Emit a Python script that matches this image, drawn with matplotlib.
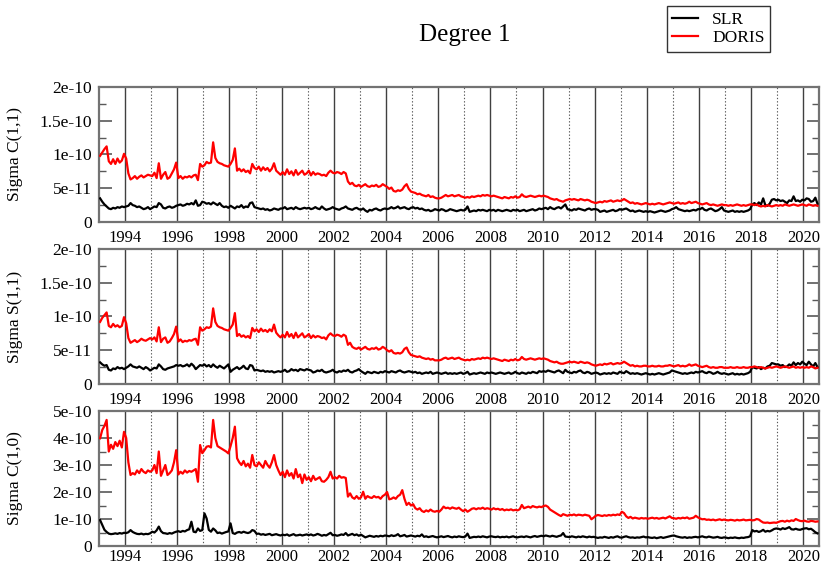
import matplotlib
matplotlib.use('Agg')
import matplotlib.pyplot as plt
from matplotlib.lines import Line2D
import numpy as np

plt.rcParams['font.family'] = ['Liberation Serif', 'DejaVu Serif']

# monthly sigmas, units of 1e-11, Jan 1993 .. Jul 2020
START_YEAR = 1993

slr_c11 = [
    3.5, 3.0, 2.6, 2.3, 2.0, 1.9, 2.1, 2.0, 2.2, 2.1, 2.3, 2.2,
    2.3, 2.4, 2.8, 2.5, 2.4, 2.2, 2.3, 2.1, 1.9, 2.0, 2.2, 1.9,
    2.1, 2.3, 2.2, 2.8, 2.6, 2.1, 2.0, 2.2, 2.3, 2.1, 2.2, 2.4,
    2.5, 2.6, 2.4, 2.5, 2.7, 2.6, 2.8, 2.6, 3.2, 2.4, 2.5, 3.0,
    2.9, 2.7, 2.8, 2.6, 2.9, 2.7, 2.5, 2.8, 2.4, 2.2, 2.3, 2.1,
    2.4, 2.2, 2.0, 2.3, 2.2, 2.5, 2.1, 2.3, 2.2, 2.8, 2.9, 2.2,
    2.1, 2.0, 1.9, 2.0, 1.8, 1.9, 1.7, 1.8, 2.0, 1.9, 1.8, 2.0,
    2.0, 2.2, 1.9, 2.0, 2.1, 1.9, 2.2, 2.0, 1.9, 2.0, 2.1, 2.0,
    2.1, 1.9, 2.0, 2.2, 2.0, 1.9, 2.3, 2.0, 1.8, 1.9, 2.0, 2.2,
    2.0, 1.9, 1.8, 2.0, 2.1, 2.3, 2.0, 1.9, 1.8, 2.0, 2.1, 1.9,
    1.8, 2.0, 1.7, 1.5, 1.8, 1.7, 1.9, 2.0, 1.8, 1.7, 1.9, 2.0,
    1.9, 2.0, 2.2, 2.0, 2.1, 2.3, 2.0, 2.1, 2.2, 2.0, 1.9, 2.1,
    2.2, 2.0, 2.1, 1.9, 2.0, 1.8, 1.7, 1.8, 1.6, 1.7, 1.9, 1.8,
    1.7, 1.9, 1.8, 1.6, 1.7, 1.9, 1.8, 1.7, 1.6, 1.7, 1.8, 1.7,
    1.8, 2.3, 1.5, 1.6, 1.7, 1.6, 1.8, 1.7, 1.8, 1.7, 1.6, 1.8,
    1.7, 1.8, 1.6, 1.8, 1.7, 1.6, 1.7, 1.8, 1.7, 1.6, 1.8, 1.7,
    1.8, 1.6, 1.7, 1.8, 1.6, 1.7, 1.8, 1.9, 1.7, 1.8, 2.0, 1.9,
    2.0, 2.1, 1.9, 2.2, 2.0, 1.9, 2.1, 2.2, 2.0, 2.3, 2.6, 1.9,
    1.8, 1.7, 1.9, 1.8, 2.0, 1.9, 1.8, 1.7, 1.9, 2.0, 1.8, 1.9,
    1.9, 1.8, 1.5, 1.6, 1.7, 1.5, 1.6, 1.7, 1.8, 1.6, 1.7, 1.9,
    1.8, 1.9, 2.0, 1.8, 1.6, 1.7, 1.5, 1.6, 1.7, 1.6, 1.5, 1.6,
    1.5, 1.6, 1.5, 1.4, 1.5, 1.6, 1.7, 1.6, 1.5, 1.6, 1.7, 1.9,
    2.0, 2.2, 1.9, 1.8, 1.7, 1.6, 1.7, 1.6, 1.7, 1.8, 1.7, 1.9,
    1.9, 2.1, 1.8, 1.7, 1.9, 2.0, 1.8, 1.6, 1.7, 1.9, 2.2, 1.7,
    1.6, 1.5, 1.6, 1.7, 1.5, 1.6, 1.5, 1.6, 1.5, 1.6, 1.7, 1.9,
    2.6, 2.8, 2.5, 2.9, 2.6, 3.5, 2.5, 2.4, 2.7, 3.3, 3.4, 3.2,
    3.3, 3.1, 3.2, 3.0, 2.8, 3.2, 3.1, 3.8, 3.1, 3.2, 3.0, 3.3,
    3.2, 3.5, 3.4, 3.0, 3.1, 3.6, 2.7,
]

doris_c11 = [
    9.8, 10.3, 10.8, 11.2, 9.0, 8.6, 9.3, 8.6, 9.4, 8.8, 9.1, 10.1,
    9.4, 7.2, 6.3, 6.5, 6.8, 6.4, 6.7, 6.9, 6.6, 6.8, 7.0, 6.9,
    6.8, 7.3, 6.5, 8.7, 6.4, 7.0, 7.4, 6.4, 6.6, 7.2, 7.8, 8.8,
    6.5, 6.8, 6.4, 6.7, 6.6, 6.8, 6.6, 6.9, 7.0, 6.2, 8.6, 8.2,
    8.4, 8.9, 8.7, 8.8, 11.8, 9.5, 8.9, 8.7, 8.6, 8.4, 8.3, 8.2,
    8.6, 9.2, 10.9, 7.6, 7.9, 7.5, 7.8, 7.4, 7.6, 7.2, 8.6, 8.0,
    7.8, 8.2, 7.6, 8.1, 7.7, 8.0, 7.5, 7.9, 8.7, 7.6, 7.3, 7.0,
    7.4, 7.0, 7.8, 7.1, 7.5, 6.9, 7.7, 7.0, 7.3, 7.6, 7.0, 7.2,
    7.6, 6.9, 7.4, 7.0, 7.2, 7.1, 6.9, 7.0, 6.8, 7.3, 7.6, 7.3,
    7.2, 7.4, 7.3, 7.1, 7.4, 7.2, 6.0, 5.6, 5.8, 5.4, 5.3, 5.5,
    5.2, 5.4, 5.6, 5.3, 5.2, 5.4, 5.3, 5.5, 5.2, 5.3, 5.6, 5.4,
    5.2, 4.9, 5.1, 4.6, 4.5, 4.7, 4.6, 4.8, 5.3, 5.6, 4.9, 4.5,
    4.4, 4.3, 4.1, 4.2, 4.0, 3.9, 3.8, 4.0, 3.7, 3.8, 3.6, 3.5,
    3.5, 3.6, 3.8, 4.0, 3.8, 3.9, 4.0, 3.8, 3.9, 4.0, 3.8, 3.7,
    3.6, 3.7, 3.6, 3.8, 3.7, 3.8, 3.9, 3.8, 4.0, 3.9, 4.0, 3.9,
    3.8, 3.9, 3.8, 3.7, 3.6, 3.5, 3.7, 3.6, 3.5, 3.7, 3.6, 3.8,
    3.6, 3.7, 4.1, 3.8, 3.7, 3.8, 3.9, 3.8, 3.7, 3.8, 3.9, 3.8,
    3.9, 3.8, 3.7, 3.5, 3.4, 3.3, 3.4, 3.2, 3.1, 3.0, 3.2, 3.3,
    3.4, 3.3, 3.4, 3.3, 3.2, 3.4, 3.3, 3.2, 3.3, 3.2, 3.0, 2.9,
    2.8, 2.9, 3.0, 2.9, 3.1, 3.0, 3.1, 3.2, 3.0, 3.1, 3.2, 3.1,
    3.2, 3.4, 3.2, 3.0, 2.8, 2.9, 2.7, 2.8, 2.7, 2.6, 2.7, 2.8,
    2.7, 2.6, 2.7, 2.6, 2.7, 2.8, 2.7, 2.6, 2.7, 2.8, 2.9, 2.8,
    2.7, 2.8, 2.9, 2.7, 2.8, 2.7, 2.8, 3.0, 2.8, 2.9, 3.0, 2.8,
    2.7, 2.6, 2.7, 2.8, 2.6, 2.5, 2.6, 2.5, 2.4, 2.5, 2.6, 2.5,
    2.5, 2.4, 2.5, 2.4, 2.5, 2.6, 2.5, 2.4, 2.5, 2.4, 2.5, 2.6,
    2.6, 2.5, 2.6, 2.4, 2.3, 2.4, 2.3, 2.5, 2.4, 2.3, 2.4, 2.5,
    2.4, 2.5, 2.4, 2.6, 2.5, 2.4, 2.5, 2.6, 2.5, 2.4, 2.5, 2.6,
    2.5, 2.4, 2.6, 2.5, 2.4, 2.5, 2.4,
]

slr_s11 = [
    3.2, 2.9, 2.7, 2.8, 2.1, 2.0, 2.3, 2.2, 2.5, 2.3, 2.4, 2.2,
    2.4, 2.6, 2.9, 2.6, 2.5, 2.4, 2.6, 2.4, 2.2, 2.5, 2.3, 2.0,
    2.2, 2.4, 2.3, 2.9, 2.6, 2.2, 2.1, 2.3, 2.4, 2.5, 2.6, 2.8,
    2.7, 2.8, 2.6, 2.7, 2.9, 2.6, 3.0, 2.7, 2.2, 2.5, 2.8, 2.7,
    2.9, 2.6, 2.8, 2.5, 2.9, 2.6, 2.4, 2.7, 2.5, 2.3, 2.6, 2.9,
    1.8, 2.1, 2.3, 2.5, 2.2, 2.4, 2.7, 2.3, 2.2, 2.8, 2.7, 2.0,
    2.1, 2.0, 1.9, 2.0, 1.8, 1.9, 1.8, 1.9, 1.7, 1.8, 1.9, 1.8,
    1.9, 2.1, 1.8, 1.9, 2.2, 2.0, 2.1, 1.9, 2.2, 2.1, 2.0, 2.2,
    2.1, 2.0, 1.7, 1.8, 2.0, 1.9, 2.1, 1.8, 1.7, 1.8, 1.9, 2.1,
    1.8, 1.7, 1.9, 1.8, 2.0, 1.9, 2.1, 1.8, 1.7, 1.9, 2.0, 2.2,
    1.9, 1.7, 1.5, 1.8, 1.7, 1.6, 1.8, 1.7, 1.6, 1.8, 1.7, 1.9,
    1.8, 1.7, 1.9, 1.8, 1.7, 1.9, 2.0, 1.8, 1.7, 1.8, 1.9, 1.8,
    1.7, 1.8, 1.6, 1.7, 1.5, 1.6, 1.7, 1.6, 1.8, 1.5, 1.6, 1.7,
    1.6, 1.5, 1.6, 1.7, 1.5, 1.6, 1.5, 1.6, 1.5, 1.6, 1.7, 1.5,
    1.6, 1.8, 1.4, 1.5, 1.6, 1.5, 1.6, 1.7, 1.6, 1.5, 1.7, 1.6,
    1.7, 1.6, 1.5, 1.6, 1.7, 1.6, 1.5, 1.6, 1.7, 1.5, 1.6, 1.8,
    1.6, 1.5, 1.7, 1.6, 1.5, 1.7, 1.6, 1.8, 1.7, 1.6, 1.9, 1.8,
    1.9, 1.8, 2.0, 1.9, 1.8, 1.7, 1.9, 2.0, 1.8, 1.6, 2.1, 1.8,
    1.7, 1.6, 1.8, 1.7, 1.9, 2.0, 1.7, 1.6, 1.8, 1.7, 1.5, 1.6,
    1.7, 1.6, 1.4, 1.5, 1.6, 1.5, 1.6, 1.5, 1.7, 1.6, 1.5, 1.8,
    1.7, 1.6, 1.9, 1.7, 1.5, 1.6, 1.5, 1.6, 1.5, 1.4, 1.5, 1.6,
    1.5, 1.4, 1.5, 1.4, 1.5, 1.6, 1.5, 1.4, 1.5, 1.6, 1.7, 2.0,
    1.9, 1.8, 1.7, 1.6, 1.5, 1.6, 1.5, 1.6, 1.7, 1.6, 1.8, 1.7,
    1.8, 1.9, 1.7, 1.6, 1.8, 1.7, 1.5, 1.6, 1.8, 1.6, 1.5, 1.6,
    1.5, 1.4, 1.5, 1.6, 1.4, 1.5, 1.4, 1.5, 1.4, 1.5, 1.6, 1.8,
    2.5, 2.4, 2.3, 2.5, 2.2, 2.4, 2.3, 2.6, 2.7, 3.1, 3.0, 2.9,
    2.9, 2.7, 2.8, 2.5, 2.6, 2.9, 2.7, 3.2, 2.8, 3.1, 2.9, 3.3,
    3.0, 2.8, 3.3, 2.9, 2.6, 3.1, 2.5,
]

doris_s11 = [
    9.2, 9.8, 10.2, 10.6, 8.6, 8.4, 8.9, 8.5, 8.7, 8.4, 8.6, 9.9,
    9.0, 6.8, 6.1, 6.3, 6.5, 6.2, 6.4, 6.7, 6.5, 6.4, 6.6, 6.8,
    6.6, 6.9, 6.3, 8.4, 6.2, 6.7, 6.9, 6.1, 6.3, 6.8, 7.4, 8.5,
    6.3, 6.6, 6.2, 6.4, 6.3, 6.5, 6.4, 6.6, 6.7, 5.8, 8.4, 7.9,
    8.1, 8.4, 8.3, 8.5, 11.2, 9.2, 8.6, 8.4, 8.3, 8.1, 8.0, 7.9,
    8.3, 8.8, 10.5, 7.1, 7.4, 7.0, 7.2, 6.9, 7.1, 6.8, 8.3, 7.8,
    8.1, 7.7, 8.2, 7.8, 8.0, 7.7, 8.1, 7.8, 8.8, 7.6, 7.2, 6.9,
    7.3, 6.9, 7.7, 7.0, 7.4, 6.8, 7.6, 6.9, 7.2, 7.5, 6.9, 7.1,
    7.4, 6.8, 7.2, 6.9, 7.1, 7.0, 6.8, 6.9, 6.6, 7.2, 7.5, 7.2,
    7.1, 7.3, 7.2, 7.0, 7.3, 7.1, 5.8, 6.1, 5.5, 5.3, 5.2, 5.4,
    5.1, 5.3, 5.5, 5.2, 5.1, 5.3, 5.2, 5.4, 5.1, 5.2, 5.5, 5.3,
    5.0, 4.8, 5.0, 4.6, 4.5, 4.6, 4.5, 4.7, 5.2, 5.4, 4.7, 4.3,
    4.2, 4.1, 4.0, 4.1, 3.9, 3.8, 3.7, 3.8, 3.6, 3.7, 3.5, 3.5,
    3.5, 3.6, 3.8, 3.9, 3.7, 3.8, 3.9, 3.7, 3.8, 3.9, 3.7, 3.6,
    3.5, 3.6, 3.5, 3.7, 3.6, 3.7, 3.8, 3.7, 3.9, 3.8, 3.9, 3.8,
    3.7, 3.8, 3.7, 3.6, 3.5, 3.4, 3.6, 3.5, 3.4, 3.6, 3.5, 3.7,
    3.5, 3.6, 4.0, 3.7, 3.6, 3.7, 3.8, 3.7, 3.6, 3.7, 3.8, 3.7,
    3.8, 3.7, 3.6, 3.4, 3.3, 3.2, 3.3, 3.1, 3.0, 3.0, 3.1, 3.2,
    3.3, 3.2, 3.3, 3.2, 3.1, 3.3, 3.2, 3.1, 3.2, 3.1, 2.9, 2.8,
    2.7, 2.8, 2.9, 2.8, 3.0, 2.9, 3.0, 3.1, 2.9, 3.0, 3.1, 3.0,
    3.1, 3.3, 3.1, 2.9, 2.7, 2.8, 2.6, 2.7, 2.6, 2.6, 2.7, 2.7,
    2.6, 2.6, 2.7, 2.6, 2.6, 2.7, 2.6, 2.6, 2.7, 2.7, 2.8, 2.7,
    2.6, 2.7, 2.8, 2.6, 2.7, 2.6, 2.7, 2.9, 2.7, 2.8, 2.9, 2.7,
    2.6, 2.5, 2.6, 2.7, 2.5, 2.4, 2.5, 2.4, 2.4, 2.5, 2.5, 2.4,
    2.4, 2.4, 2.5, 2.4, 2.4, 2.5, 2.4, 2.4, 2.5, 2.4, 2.4, 2.5,
    2.5, 2.6, 2.5, 2.4, 2.5, 2.4, 2.3, 2.4, 2.5, 2.4, 2.5, 2.6,
    2.5, 2.4, 2.5, 2.6, 2.5, 2.4, 2.5, 2.6, 2.4, 2.5, 2.4, 2.5,
    2.4, 2.5, 2.4, 2.6, 2.5, 2.3, 2.4,
]

slr_c10 = [
    9.6, 7.8, 6.0, 5.2, 4.6, 4.4, 4.5, 4.7, 4.5, 4.8, 4.6, 4.9,
    4.8, 5.1, 5.9, 5.2, 4.8, 4.5, 4.4, 4.6, 4.3, 4.5, 4.4, 4.7,
    5.3, 5.0, 5.8, 7.2, 5.5, 4.8, 4.7, 4.5, 4.8, 4.6, 5.0, 5.3,
    5.5, 5.2, 5.6, 5.4, 5.9, 6.2, 9.0, 5.3, 5.1, 6.5, 5.6, 5.9,
    12.1, 10.2, 6.0, 5.3, 6.5, 5.8, 4.8, 5.0, 4.6, 4.9, 5.2, 5.4,
    8.4, 4.8, 4.5, 5.0, 5.2, 4.9, 5.3, 5.0, 4.8, 5.1, 5.9, 5.6,
    4.5, 4.6, 4.2, 4.4, 4.1, 4.3, 4.5, 4.0, 4.2, 4.4, 4.1, 3.9,
    4.2, 4.0, 4.3, 3.8, 4.1, 4.4, 3.9, 4.0, 4.2, 3.9, 4.1, 4.3,
    4.0, 4.3, 3.9, 4.1, 4.5, 4.2, 3.8, 4.1, 3.9, 4.4, 4.9, 4.0,
    4.1, 3.8, 4.0, 4.3, 4.1, 4.8, 3.9, 4.2, 4.5, 4.0, 4.3, 3.8,
    4.2, 3.7, 3.2, 3.5, 3.8, 3.6, 3.4, 3.7, 3.5, 3.8, 3.6, 3.9,
    3.8, 3.6, 4.0, 3.7, 3.9, 4.4, 3.6, 3.8, 4.1, 3.5, 3.7, 3.9,
    3.7, 3.5, 3.8, 3.6, 4.3, 3.4, 3.6, 3.3, 3.5, 3.7, 3.4, 3.2,
    3.4, 3.6, 3.3, 3.5, 3.7, 3.4, 3.2, 3.5, 3.3, 3.6, 3.4, 3.3,
    3.5, 4.6, 3.0, 3.2, 3.4, 3.3, 3.5, 3.3, 3.6, 3.4, 3.2, 3.5,
    3.6, 3.4, 3.3, 3.5, 3.2, 3.4, 3.3, 3.5, 3.2, 3.4, 3.6, 3.3,
    3.2, 3.4, 3.5, 3.3, 3.6, 3.4, 3.2, 3.5, 3.7, 3.4, 3.6, 3.8,
    3.6, 3.9, 3.7, 3.5, 3.8, 3.6, 3.4, 3.7, 3.9, 4.8, 3.5, 3.4,
    3.3, 3.6, 3.4, 3.2, 3.5, 3.3, 3.6, 3.4, 3.2, 3.5, 3.3, 3.4,
    3.2, 3.0, 3.2, 3.1, 3.4, 3.2, 3.0, 3.3, 3.1, 3.4, 3.6, 3.2,
    3.1, 3.4, 3.6, 3.3, 3.1, 3.2, 3.0, 3.2, 3.1, 3.3, 3.5, 3.2,
    3.3, 3.1, 3.0, 3.2, 2.9, 3.1, 3.3, 3.0, 3.2, 3.4, 3.6, 3.8,
    3.9, 3.6, 3.4, 3.2, 3.1, 3.3, 3.0, 3.2, 3.1, 3.3, 3.4, 3.2,
    3.4, 3.6, 3.3, 3.2, 3.5, 3.3, 3.1, 3.2, 3.4, 3.1, 3.0, 3.2,
    3.1, 2.9, 3.1, 3.0, 3.2, 3.0, 2.9, 3.1, 3.0, 3.2, 3.3, 3.6,
    5.9, 5.4, 5.6, 5.2, 5.5, 6.0, 5.3, 5.6, 5.4, 5.8, 6.3, 6.5,
    6.4, 6.1, 6.6, 6.3, 6.6, 7.0, 6.2, 6.1, 6.4, 6.1, 6.0, 6.3,
    6.5, 6.6, 6.2, 6.4, 5.8, 5.1, 4.7,
]

doris_c10 = [
    39.9, 43.0, 44.5, 46.7, 35.0, 37.5, 36.0, 38.5, 37.0, 39.0, 36.5, 42.3,
    40.0, 31.0, 26.3, 27.0, 26.5, 28.0, 27.0, 28.5, 27.5, 27.0, 28.0, 27.5,
    28.0, 30.0, 27.0, 35.0, 26.0, 28.0, 30.0, 26.3, 27.0, 28.0, 31.0, 35.5,
    26.5, 27.5, 26.8, 28.0, 27.2, 27.8, 27.5, 28.0, 28.5, 23.8, 37.4, 34.4,
    35.5, 36.8, 37.0, 36.5, 46.7, 40.0, 37.0, 36.5, 36.0, 35.5, 35.0, 34.3,
    37.0, 40.0, 44.2, 32.5, 31.0, 30.0, 31.5, 29.5, 30.5, 29.0, 33.7, 30.0,
    29.5, 31.0, 30.0, 29.0, 31.5, 30.0, 29.0, 31.0, 33.7, 30.0, 28.0, 26.3,
    27.5, 25.5, 28.0, 26.0, 27.0, 25.0, 28.5, 25.5, 26.5, 23.3, 26.5, 24.5,
    25.5, 24.0, 26.0, 24.5, 25.0, 25.5, 24.0, 23.8, 24.5, 25.5, 27.5, 25.0,
    25.5, 25.0, 26.0, 25.3, 25.5, 25.2, 18.3, 19.5, 18.0, 17.5, 18.5, 17.5,
    18.0, 20.1, 17.5, 18.5, 18.0, 17.8, 18.5, 18.0, 18.2, 17.5, 18.5, 19.0,
    20.0, 17.3, 17.5, 18.0, 17.5, 18.5, 19.0, 20.7, 17.5, 15.2, 16.0, 15.0,
    15.5, 14.0, 13.5, 14.0, 13.0, 12.6, 13.2, 12.8, 13.5, 12.9, 12.7, 13.0,
    12.7, 13.5, 14.6, 14.0, 14.2, 13.8, 14.3, 14.0, 13.8, 14.2, 13.5, 12.9,
    13.5, 12.7, 13.2, 13.8, 14.0, 13.6, 14.0, 13.8, 14.2, 13.7, 14.0, 13.8,
    13.5, 14.0, 13.6, 13.8, 13.4, 13.7, 13.2, 13.5, 13.3, 13.6, 13.2, 13.4,
    13.2, 13.6, 15.2, 14.0, 14.3, 14.6, 14.2, 14.8, 14.5, 14.3, 14.6, 14.4,
    14.8, 15.0, 14.5, 13.5, 13.0, 12.5, 12.0, 11.5, 11.1, 11.8, 11.5, 11.2,
    11.6, 11.4, 11.7, 11.3, 11.6, 11.5, 11.3, 11.6, 11.4, 11.2, 9.9, 10.5,
    11.2, 11.5, 11.3, 11.1, 11.4, 11.2, 11.5, 11.3, 11.6, 11.4, 11.7, 11.5,
    12.7, 12.2, 11.0, 10.4, 10.8, 10.2, 10.5, 10.3, 10.1, 10.4, 10.2, 10.3,
    10.1, 10.3, 10.5, 10.2, 10.4, 10.1, 10.3, 10.5, 10.2, 10.6, 11.0, 10.4,
    10.3, 10.1, 10.4, 10.2, 10.5, 10.3, 10.6, 10.1, 10.3, 10.5, 11.2, 10.6,
    10.2, 9.9, 10.0, 9.7, 9.8, 9.6, 9.8, 9.5, 9.7, 9.9, 9.6, 9.8,
    9.6, 9.5, 9.7, 9.6, 9.4, 9.7, 9.5, 9.6, 9.8, 9.5, 9.6, 9.7,
    9.5, 9.6, 10.0, 9.8, 9.2, 8.7, 8.6, 8.7, 8.5, 8.6, 8.7, 8.6,
    8.9, 9.2, 9.3, 9.0, 9.4, 9.1, 9.5, 9.3, 10.0, 9.6, 9.3, 9.2,
    9.4, 9.1, 9.0, 9.3, 9.2, 9.0, 9.1,
]

panel_labels = ['Sigma C(1,1)', 'Sigma S(1,1)', 'Sigma C(1,0)']
ytick_small = [0, 5e-11, 1e-10, 1.5e-10, 2e-10]
ytick_small_labels = ['0', '5e-11', '1e-10', '1.5e-10', '2e-10']
ytick_big = [0, 1e-10, 2e-10, 3e-10, 4e-10, 5e-10]
ytick_big_labels = ['0', '1e-10', '2e-10', '3e-10', '4e-10', '5e-10']
year_labels = list(range(1994, 2021, 2))

fig = plt.figure(figsize=(8.21, 5.67), dpi=100)

boxes = [(0.1206, 0.6085), (0.1206, 0.3228), (0.1206, 0.037)]
series = [(slr_c11, doris_c11), (slr_s11, doris_s11), (slr_c10, doris_c10)]

for i, ((x0, y0), (slr, doris)) in enumerate(zip(boxes, series)):
    ax = fig.add_axes([x0, y0, 0.9976 - x0, 0.2381])
    t = START_YEAR + (np.arange(len(slr)) + 0.5) / 12.0

    for yr in range(1994, 2021):
        if yr % 2 == 0:
            ax.axvline(yr, color='0.25', lw=1.0, zorder=1)
        else:
            ax.axvline(yr, color='0.35', lw=0.8, ls=(0, (1.2, 1.8)), zorder=1)

    ax.plot(t, np.array(slr) * 1e-11, color='black', lw=1.6, zorder=3)
    ax.plot(t, np.array(doris) * 1e-11, color='red', lw=1.6, zorder=3)

    ax.set_xlim(1993.0, 2020.6)
    ax.set_xticks(year_labels)
    ax.set_xticklabels([str(y) for y in year_labels])
    ax.tick_params(axis='x', length=0, pad=6 if i < 2 else 2.5, labelsize=12)

    if i < 2:
        ax.set_ylim(0, 2e-10)
        ax.set_yticks(ytick_small)
        ax.set_yticklabels(ytick_small_labels)
        ax.set_yticks(np.arange(0, 2.01e-10, 2.5e-11), minor=True)
    else:
        ax.set_ylim(0, 5e-10)
        ax.set_yticks(ytick_big)
        ax.set_yticklabels(ytick_big_labels)
        ax.set_yticks(np.arange(0, 5.01e-10, 5e-11), minor=True)
    ax.tick_params(axis='y', which='major', direction='in', length=9,
                   width=1.2, color='0.35', left=True, right=True,
                   labelsize=12.5, pad=5)
    ax.tick_params(axis='y', which='minor', direction='in', length=5,
                   width=1.0, color='0.35', left=True, right=True)

    for sp in ax.spines.values():
        sp.set_color('0.45')
        sp.set_linewidth(1.6)

    ax.set_ylabel(panel_labels[i], fontsize=12.5)
    ax.yaxis.set_label_coords(-0.105, 0.5)

fig.text(0.566, 0.938, 'Degree 1', ha='center', va='center', fontsize=18)

handles = [Line2D([], [], color='black', lw=1.6),
           Line2D([], [], color='red', lw=1.6)]
leg = fig.legend(handles, ['SLR', 'DORIS'], loc='upper left',
                 bbox_to_anchor=(0.8124, 0.989), fontsize=12.5,
                 frameon=True, fancybox=False, edgecolor='black',
                 handlelength=1.5, handletextpad=0.8, labelspacing=0.15,
                 borderpad=0.3, borderaxespad=0)
leg.get_frame().set_linewidth(1.0)

fig.savefig('out.png', dpi=100)
